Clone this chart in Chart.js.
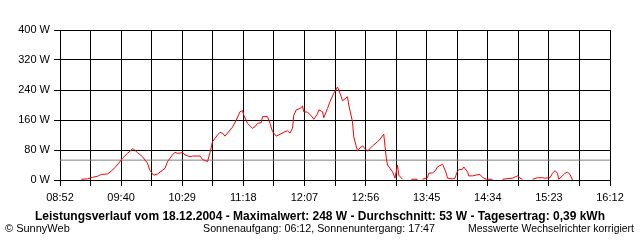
<!DOCTYPE html>
<html lang="de">
<head>
<meta charset="UTF-8">
<title>Leistungsverlauf vom 18.12.2004</title>
<script src="https://cdn.jsdelivr.net/npm/chart.js@4.4.0/dist/chart.umd.min.js"></script>
<style>
*{margin:0;padding:0}
body{background:#fff;width:640px;height:240px;overflow:hidden}
</style>
</head>
<body>
<canvas id="chart" width="640" height="240"></canvas>
<script>
// Messwerte (Uhrzeit / Leistung in W), null = Lücke
const zeiten = ["09:09","09:14","09:18","09:22","09:25","09:30","09:32","09:36","09:39","09:42",
  "09:46","09:50","09:51","09:54","09:58","10:02","10:04","10:07","10:10","10:16",
  "10:18","10:22","10:24","10:26","10:30","10:32","10:36","10:38","10:44","10:46",
  "10:50","10:52","10:54","10:58","11:00","11:02","11:04","11:06","11:10","11:13",
  "11:16","11:18","11:19","11:22","11:26","11:28","11:30","11:33","11:34","11:38",
  "11:40","11:42","11:45","11:48","11:52","11:54","11:56","11:58","11:59","12:01",
  "12:04","12:06","12:07","12:10","12:13","12:15","12:18","12:19","12:22","12:23",
  "12:26","12:28","12:31","12:34","12:35","12:37","12:38","12:42","12:43","12:46",
  "12:47","12:50","12:52","12:54","12:57","12:58","13:02","13:06","13:08","13:11",
  "13:13","13:14","13:18","13:20","13:22","13:23","13:26","13:29","13:33","13:38",
  "13:40","13:42","13:46","13:47","13:50","13:52","13:54","13:58","13:59","14:01",
  "14:02","14:06","14:08","14:10","14:11","14:14","14:15","14:18","14:19","14:22",
  "14:26","14:28","14:30","14:33","14:38","14:42","14:46","14:54","14:58","15:00",
  "15:02","15:06","15:10","15:14","15:18","15:20","15:24","15:26","15:28","15:30",
  "15:31","15:34","15:36","15:38","15:40","15:42"];
const leistung = [2,3,7,10,15,16,21,33,45,58,
  71,83,82,73,62,45,25,13,16,31,
  49,67,74,71,73,67,62,64,64,55,
  49,73,102,120,127,125,117,125,141,160,
  182,185,173,151,138,142,151,153,169,169,
  151,129,117,122,129,131,125,138,173,187,
  191,197,182,181,171,162,176,187,182,166,
  191,209,231,248,240,222,211,222,200,155,
  115,77,86,91,80,77,91,102,109,122,
  59,40,22,5,40,13,2,null,2,2,
  null,2,6,18,19,24,35,42,35,18,
  5,3,5,24,27,29,35,22,11,11,
  14,15,7,2,2,null,2,5,11,5,
  2,null,2,6,6,5,6,18,25,18,
  2,11,18,21,15,0];

const durchschnitt = 53;
const xStart = "08:52", xEnd = "16:12";
const xTickLabels = ["08:52","09:40","10:29","11:18","12:07","12:56","13:45","14:34","15:23","16:12"];
const yTicks = [0, 80, 160, 240, 320, 400];

const titel = "Leistungsverlauf vom 18.12.2004 - Maximalwert: 248 W - Durchschnitt: 53 W - Tagesertrag: 0,39 kWh";
const copyright = "\u00a9 SunnyWeb";
const sonne = "Sonnenaufgang: 06:12, Sonnenuntergang: 17:47";
const hinweis = "Messwerte Wechselrichter korrigiert";

const toMin = t => { const [h, m] = t.split(":"); return h * 60 + +m; };
const xMin = toMin(xStart), xMax = toMin(xEnd);
const font = "'Liberation Sans', Arial, sans-serif";

const fussnote = {
  id: "fussnote",
  afterDraw(chart) {
    const c = chart.ctx;
    c.save();
    c.fillStyle = "#000";
    c.textBaseline = "middle";
    c.font = "bold 12px " + font;
    c.textAlign = "center";
    c.fillText(titel, 320, 217, 580);
    c.font = "11px " + font;
    c.textAlign = "left";
    c.fillText(copyright, 5, 229);
    c.fillText(sonne, 203, 229, 232);
    c.textAlign = "right";
    c.fillText(hinweis, 634, 229, 166);
    c.restore();
  }
};

new Chart(document.getElementById("chart"), {
  type: "line",
  data: {
    datasets: [{
      data: zeiten.map((t, i) => ({ x: toMin(t), y: leistung[i] })),
      borderColor: "#ff0000",
      borderWidth: 1,
      pointRadius: 0,
      tension: 0,
      spanGaps: false,
      order: 1
    }, {
      data: [{ x: xMin, y: durchschnitt }, { x: xMax, y: durchschnitt }],
      borderColor: "#808080",
      borderWidth: 1,
      pointRadius: 0,
      order: 2
    }]
  },
  options: {
    responsive: false,
    animation: false,
    devicePixelRatio: 1,
    layout: { padding: { top: 30, right: 30, left: 0, bottom: 0 } },
    plugins: { legend: { display: false }, tooltip: { enabled: false } },
    scales: {
      x: {
        type: "linear", min: xMin, max: xMax,
        afterBuildTicks: s => { s.ticks = Array.from({ length: 19 }, (_, i) => ({ value: xMin + i * (xMax - xMin) / 18 })); },
        afterFit: s => { s.height = 60; },
        grid: { color: "#000", lineWidth: 1, tickLength: 6 },
        border: { color: "#000", width: 1 },
        ticks: {
          color: "#000", font: { family: font, size: 11 }, padding: 5,
          autoSkip: false, maxRotation: 0,
          callback: (v, i) => i % 2 ? "" : xTickLabels[i / 2]
        }
      },
      y: {
        min: 0, max: 400,
        afterBuildTicks: s => { s.ticks = yTicks.map(v => ({ value: v })); },
        afterFit: s => { s.width = 60; },
        grid: { color: "#000", lineWidth: 1, tickLength: 6 },
        border: { color: "#000", width: 1 },
        ticks: { color: "#000", font: { family: font, size: 11 }, padding: 4, callback: v => v + " W" }
      }
    }
  },
  plugins: [fussnote]
});
</script>
</body>
</html>
